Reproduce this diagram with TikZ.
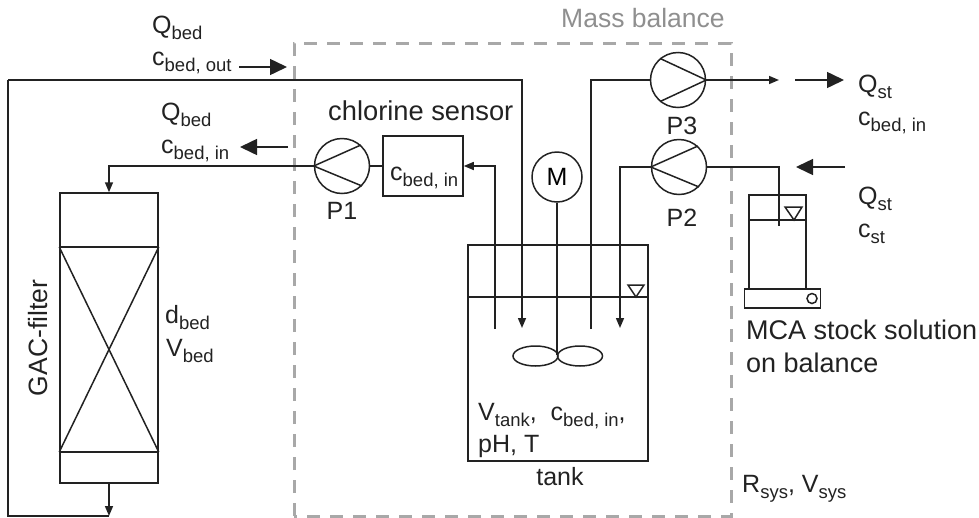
\documentclass[tikz,border=0pt]{standalone}
\usepackage{fontspec}
\setmainfont{Liberation Sans}
\usetikzlibrary{arrows.meta, positioning, shapes.geometric}
\definecolor{pipecol}{HTML}{222222}
\definecolor{massgrey}{HTML}{A8A8A8}
\newcommand{\subs}[1]{\raisebox{-0.27em}{\fontsize{18.5}{19}\selectfont #1}}
\begin{document}
\begin{tikzpicture}[
    x=1pt, y=-1pt,
    font=\fontsize{25}{28}\selectfont,
    lbl/.style={anchor=base west, inner sep=0pt, text=pipecol},
    unit/.style={draw=pipecol, line width=1.5pt, inner sep=0pt},
    pump/.style={unit, circle, minimum size=55pt},
    paddle/.style={unit, ellipse, minimum width=45pt, minimum height=20pt},
    pipe/.style={draw=pipecol, line width=1.5pt},
    arr/.style={pipe, -{Stealth[length=10pt, width=8pt, inset=0pt]}},
    flow/.style={pipe, -{Stealth[length=17pt, width=16pt, inset=0pt]}},
    mass/.style={draw=massgrey, line width=3pt, dash pattern=on 13pt off 10pt},
  ]
  \useasboundingbox (0,0) rectangle (979,517);
  \draw[mass] (294,516) -- (294,43) -- (731,43) -- (731,516) -- cycle;
  \node[lbl, text=massgrey!85!black, font=\fontsize{26.5}{28}\selectfont] (masslbl) at (561,27) {Mass balance};

  \node[unit, minimum width=98pt, minimum height=290pt] (flt) at (109,338) {};
  \node[unit, minimum width=80pt, minimum height=60pt] (sens) at (423,166) {};
  \node[unit, minimum width=180pt, minimum height=216pt] (tank) at (558,353) {};
  \node[unit, minimum width=57pt, minimum height=94pt] (stock) at (777.5,242) {};
  \node[unit, minimum width=76pt, minimum height=19pt] (bal) at (782.5,298.5) {};
  \node[unit, circle, minimum size=10pt] (knob) at (812,298.5) {};
  \node[pump] (p1) at (342,166) {};
  \node[pump] (p2) at (679,167) {};
  \node[pump] (p3) at (678,80) {};
  \node[unit, circle, minimum size=50pt] (mot) at (557,177) {M};
  \node[paddle] (padl) at (535.5,356) {};
  \node[paddle] (padr) at (580,356) {};

  \coordinate (fout) at (109,516);
  \coordinate (bl) at (8,516);
  \coordinate (tl) at (8,80);
  \coordinate (tin) at (522,328);
  \coordinate (sin) at (495,329);
  \coordinate (pin) at (620,328);
  \coordinate (pout) at (591,329);
  \coordinate (hub) at (557,355);
  \coordinate (outend) at (779,80);
  \coordinate (dip) at (779,226);

  \draw[arr] (flt.south) -- (fout);
  \draw[pipe] (fout) -- (bl) -- (tl);
  \draw[arr] (tl) -| (tin);
  \draw[arr] (p1.west) -| (flt.north);
  \draw[pipe] (p1.east) -- (sens.west);
  \draw[arr] (sin) |- (sens.east);
  \draw[pipe] (mot.south) -- (hub);
  \draw[pipe] (pout) |- (p3.west);
  \draw[arr] (p3.east) -- (outend);
  \draw[arr] (p2.west) -| (pin);
  \draw[pipe] (p2.east) -| (dip);

  \draw[pipe] (p1.west) -- (p1.48);
  \draw[pipe] (p1.west) -- (p1.-45);
  \draw[pipe] (p2.west) -- (p2.48);
  \draw[pipe] (p2.west) -- (p2.-45);
  \draw[pipe] (p3.east) -- (p3.130);
  \draw[pipe] (p3.east) -- (p3.230);

  \draw[pipe] (flt.west |- 0,247) -- (flt.east |- 0,247);
  \draw[pipe] (flt.west |- 0,452) -- (flt.east |- 0,452);
  \draw[pipe] (flt.west |- 0,247) -- (flt.east |- 0,452);
  \draw[pipe] (flt.east |- 0,247) -- (flt.west |- 0,452);

  \draw[pipe] (tank.west |- 0,297) -- (tank.east |- 0,297);
  \draw[pipe] (628,285) -- (644,285) -- (636,297) -- cycle;
  \draw[pipe] (stock.west |- 0,220) -- (stock.east |- 0,220);
  \draw[pipe] (785,207) -- (802,207) -- (794,220) -- cycle;

  \coordinate (a1s) at (239,67);
  \coordinate (a1e) at (287,67);
  \coordinate (a2s) at (288,147);
  \coordinate (a2e) at (240,147);
  \coordinate (a3s) at (795,80);
  \coordinate (a3e) at (844,80);
  \coordinate (a4s) at (845,167);
  \coordinate (a4e) at (796,167);
  \draw[flow] (a1s) -- (a1e);
  \draw[flow] (a2s) -- (a2e);
  \draw[flow] (a3s) -- (a3e);
  \draw[flow] (a4s) -- (a4e);

  \node[lbl] (qout) at (152,33) {Q\subs{bed}};
  \node[lbl] (cout) at (152,65) {c\subs{bed, out}};
  \node[lbl] (qin) at (161,120) {Q\subs{bed}};
  \node[lbl] (cin) at (161,153) {c\subs{bed, in}};
  \node[lbl, font=\fontsize{27.3}{28}\selectfont] (senslbl) at (328,120) {chlorine sensor};
  \node[lbl] (csens) at (390,180) {c\subs{bed, in}};
  \node[lbl, below=8pt of p1, anchor=north] (p1lbl) {P1};
  \node[lbl, below=9pt of p3, anchor=north, xshift=4pt] (p3lbl) {P3};
  \node[lbl, below=14pt of p2, anchor=north, xshift=3pt] (p2lbl) {P2};
  \node[lbl] (qst1) at (858,92) {Q\subs{st}};
  \node[lbl] (cst1) at (858,125) {c\subs{bed, in}};
  \node[lbl] (qst2) at (858,204) {Q\subs{st}};
  \node[lbl] (cst2) at (858,237) {c\subs{st}};
  \node[lbl] (dbed) at (165,323) {d\subs{bed}};
  \node[lbl] (vbed) at (166,356) {V\subs{bed}};
  \node[lbl] (vtank) at (478,420) {V\subs{tank}, \ c\subs{bed, in},};
  \node[lbl] (ph) at (478,452) {pH, T};
  \node[lbl, anchor=base] (tanklbl) at (560,485) {tank};
  \node[lbl, font=\fontsize{27}{28}\selectfont] (mca) at (746,339) {MCA stock solution};
  \node[lbl, font=\fontsize{27}{28}\selectfont] (onbal) at (746,372) {on balance};
  \node[lbl] (rsys) at (742,492) {R\subs{sys}, V\subs{sys}};
  \node[lbl, anchor=center, rotate=90, font=\fontsize{26.5}{28}\selectfont] (gac) at (38,338) {GAC-filter};
\end{tikzpicture}
\end{document}
